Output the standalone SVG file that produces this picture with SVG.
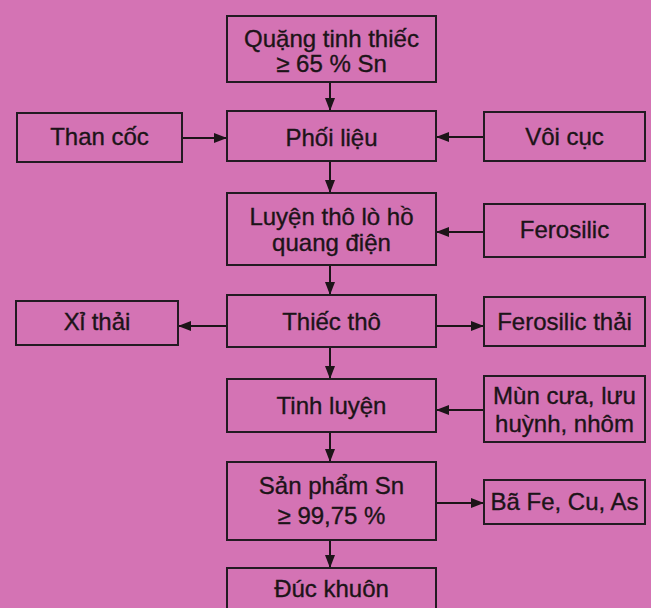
<svg xmlns="http://www.w3.org/2000/svg" width="651" height="608" viewBox="0 0 651 608">
<defs>
<style>
.box{fill:none;stroke:#231a22;stroke-width:2}
.t{font-family:"Liberation Sans",Arial,sans-serif;font-size:24px;fill:#1c1418;stroke:#1c1418;stroke-width:0.35;text-anchor:middle}
.c{stroke:#1c1418;stroke-width:2;fill:none;marker-end:url(#ah)}
</style>
<marker id="ah" markerUnits="userSpaceOnUse" markerWidth="13" markerHeight="13" viewBox="0 0 13 13" refX="13" refY="6.5" orient="auto">
<path d="M0,1.5 L13,6.5 L0,11.5 Z" fill="#1c1418"/>
</marker>
</defs>
<rect x="0" y="0" width="651" height="608" fill="#D473B4"/>
<g id="connectors">
<line class="c" x1="330" y1="82" x2="330" y2="111"/>
<line class="c" x1="330" y1="161" x2="330" y2="193"/>
<line class="c" x1="330" y1="265" x2="330" y2="295"/>
<line class="c" x1="330" y1="347" x2="330" y2="379"/>
<line class="c" x1="330" y1="432" x2="330" y2="462"/>
<line class="c" x1="330" y1="540" x2="330" y2="568"/>
<line class="c" x1="182" y1="138" x2="227" y2="138"/>
<line class="c" x1="484" y1="137" x2="436" y2="137"/>
<line class="c" x1="484" y1="232" x2="436" y2="232"/>
<line class="c" x1="227" y1="326" x2="178" y2="326"/>
<line class="c" x1="436" y1="326" x2="484" y2="326"/>
<line class="c" x1="484" y1="410" x2="436" y2="410"/>
<line class="c" x1="436" y1="503" x2="484" y2="503"/>
</g>
<g id="quang">
<rect class="box" x="227" y="16" width="209" height="66"/>
<text class="t" x="331.5" y="47">Quặng tinh thiếc</text>
<text class="t" x="331.5" y="72">≥ 65 % Sn</text>
</g>
<g id="phoilieu">
<rect class="box" x="227" y="111" width="209" height="50"/>
<text class="t" x="331.5" y="146">Phối liệu</text>
</g>
<g id="thancoc">
<rect class="box" x="17" y="113" width="165" height="49"/>
<text class="t" x="99.5" y="145">Than cốc</text>
</g>
<g id="voicuc">
<rect class="box" x="484" y="112" width="161" height="49"/>
<text class="t" x="564.5" y="145">Vôi cục</text>
</g>
<g id="luyentho">
<rect class="box" x="227" y="193" width="209" height="72"/>
<text class="t" x="331.5" y="225">Luyện thô lò hồ</text>
<text class="t" x="331.5" y="251">quang điện</text>
</g>
<g id="ferosilic">
<rect class="box" x="484" y="204" width="161" height="53"/>
<text class="t" x="564.5" y="238">Ferosilic</text>
</g>
<g id="thiectho">
<rect class="box" x="227" y="295" width="209" height="52"/>
<text class="t" x="331.5" y="330">Thiếc thô</text>
</g>
<g id="xithai">
<rect class="box" x="16" y="301" width="162" height="44"/>
<text class="t" x="97" y="330">Xỉ thải</text>
</g>
<g id="ferosilicthai">
<rect class="box" x="484" y="297" width="161" height="49"/>
<text class="t" x="564.5" y="330">Ferosilic thải</text>
</g>
<g id="tinhluyen">
<rect class="box" x="227" y="379" width="209" height="53"/>
<text class="t" x="331.5" y="414">Tinh luyện</text>
</g>
<g id="muncua">
<rect class="box" x="484" y="376" width="161" height="66"/>
<text class="t" x="564.5" y="404">Mùn cưa, lưu</text>
<text class="t" x="564.5" y="432">huỳnh, nhôm</text>
</g>
<g id="sanpham">
<rect class="box" x="227" y="462" width="209" height="78"/>
<text class="t" x="331.5" y="494">Sản phẩm Sn</text>
<text class="t" x="331.5" y="524">≥ 99,75 %</text>
</g>
<g id="ba">
<rect class="box" x="484" y="480" width="161" height="44"/>
<text class="t" x="564.5" y="510">Bã Fe, Cu, As</text>
</g>
<g id="duckhuon">
<rect class="box" x="227" y="568" width="209" height="46"/>
<text class="t" x="331.5" y="597">Đúc khuôn</text>
</g>
</svg>
